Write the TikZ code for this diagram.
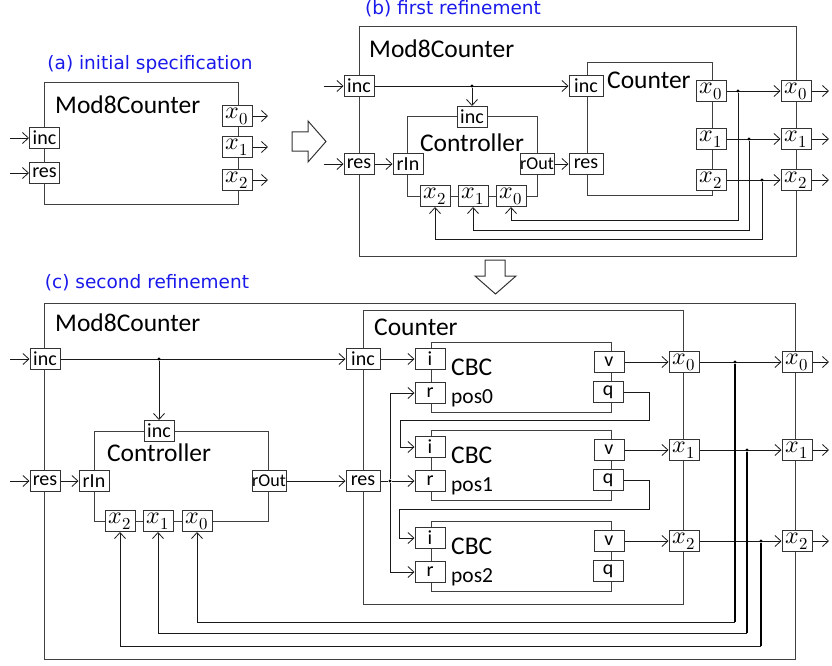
\documentclass[tikz,border=0pt]{standalone}
\usepackage{fontspec}
\usepackage{unicode-math}
\setmainfont{Carlito}
\newfontfamily\capfont{DejaVu Sans}
\usetikzlibrary{arrows.meta}
\definecolor{capblue}{RGB}{25,25,235}
\begin{document}
\begin{tikzpicture}[x=1pt,y=-1pt,
  wire/.style={draw=black!90, line width=0.8pt},
  thickwire/.style={draw=black, line width=1.8pt},
  arr/.style={wire,-{Straight Barb[length=6pt,width=11pt]}},
  compbox/.style={draw=black!75, line width=1pt},
  port/.style={draw=black!80, line width=1pt, fill=white, minimum width=30pt, minimum height=21pt, inner sep=0pt, font=\fontsize{20}{20}\selectfont},
  wport/.style={port, minimum width=34pt},
  routport/.style={wport, font=\fontsize{18}{18}\selectfont},
  xport/.style={port, font=\fontsize{24}{24}\selectfont},
  bigtext/.style={font=\fontsize{25.5}{26}\selectfont, inner sep=0pt, anchor=west},
  postext/.style={font=\fontsize{21.5}{22}\selectfont, inner sep=0pt, anchor=west},
  captext/.style={font=\capfont\fontsize{18.5}{19}\selectfont, text=capblue, inner sep=0pt},
  jdot/.style={circle, fill=black, inner sep=0pt, minimum size=3.2pt},
  hollow/.style={draw=black!80, line width=1pt, fill=white},
]
\useasboundingbox (0,0) rectangle (832,666);

% ---------------- (a) ----------------
\node[captext] (capa) at (150,64) {(a) initial specification};
\draw[compbox] (44,83) rectangle (238,204);
\node[bigtext] (amod) at (55,105) {Mod8Counter};
\node[port] (ainc) at (44.5,138) {inc};
\node[port] (ares) at (44.5,173) {res};
\node[xport] (ax0) at (237,116) {$x_0$};
\node[xport] (ax1) at (237,147) {$x_1$};
\node[xport] (ax2) at (237,180) {$x_2$};
\coordinate (aincin) at (10,138);
\coordinate (aresin) at (10,173);
\coordinate (ax0out) at (268,116);
\coordinate (ax1out) at (268,147);
\coordinate (ax2out) at (268,180);
\draw[arr] (aincin) -- (ainc);
\draw[arr] (aresin) -- (ares);
\draw[arr] (ax0) -- (ax0out);
\draw[arr] (ax1) -- (ax1out);
\draw[arr] (ax2) -- (ax2out);

% hollow arrow a -> b
\draw[hollow] (292,132) -- (308,132) -- (308,121) -- (326,141.5) -- (308,162) -- (308,151) -- (292,151) -- cycle;

% ---------------- (b) ----------------
\node[captext] (capb) at (453,9) {(b) first refinement};
\draw[compbox] (359,27) rectangle (796,256);
\node[bigtext] (bmod) at (369,49) {Mod8Counter};
\node[port] (binc) at (359,86) {inc};
\node[port] (bres) at (359,164) {res};
% controller
\draw[compbox] (407,117) rectangle (537,196);
\node[bigtext, anchor=center] (bctl) at (472,143) {Controller};
\node[port] (bcinc) at (472,117) {inc};
\node[port] (brin) at (408,164) {rIn};
\node[routport] (brout) at (537,164) {rOut};
\node[xport] (bcx2) at (435,196) {$x_2$};
\node[xport] (bcx1) at (473,196) {$x_1$};
\node[xport] (bcx0) at (511,196) {$x_0$};
% counter
\draw[compbox] (587,63) rectangle (712,195);
\node[bigtext] (bcnt) at (607,80) {Counter};
\node[wport] (bkinc) at (586,86) {inc};
\node[wport] (bkres) at (586,164) {res};
\node[xport] (bkx0) at (711,91) {$x_0$};
\node[xport] (bkx1) at (711,139) {$x_1$};
\node[xport] (bkx2) at (711,180) {$x_2$};
% outer outputs
\node[xport] (box0) at (796,91) {$x_0$};
\node[xport] (box1) at (796,139) {$x_1$};
\node[xport] (box2) at (796,180) {$x_2$};
\coordinate (bincin) at (324,86);
\coordinate (bresin) at (324,164);
\coordinate (box0out) at (829,91);
\coordinate (box1out) at (829,139);
\coordinate (box2out) at (829,180);
\draw[arr] (bincin) -- (binc);
\draw[arr] (bresin) -- (bres);
\draw[arr] (binc) -- (bkinc);
\node[jdot] (bj) at (472,86) {};
\draw[arr] (bj) -- (bcinc);
\draw[arr] (bres) -- (brin);
\draw[arr] (brout) -- (bkres);
\draw[arr] (bkx0) -- (box0);
\draw[arr] (bkx1) -- (box1);
\draw[arr] (bkx2) -- (box2);
\draw[arr] (box0) -- (box0out);
\draw[arr] (box1) -- (box1out);
\draw[arr] (box2) -- (box2out);
\node[jdot] (bj0) at (738,91) {};
\node[jdot] (bj1) at (749,139) {};
\node[jdot] (bj2) at (762,180) {};
\draw[arr] (bj0) -- (738,220) -| (bcx0);
\draw[arr] (bj1) -- (749,230) -| (bcx1);
\draw[arr] (bj2) -- (762,239) -| (bcx2);

% hollow arrow b -> c
\draw[hollow] (485,260) -- (505,260) -- (505,276) -- (516,276) -- (495.5,294) -- (475,276) -- (485,276) -- cycle;

% ---------------- (c) ----------------
\node[captext] (capc) at (147,283) {(c) second refinement};
\draw[compbox] (44,303) rectangle (795,659);
\node[bigtext] (cmod) at (55,323) {Mod8Counter};
\node[port] (cinc) at (45,359) {inc};
\node[port] (cres) at (45,481) {res};
% controller
\draw[compbox] (94,431) rectangle (268,521);
\node[bigtext, anchor=center] (cctl) at (159,453) {Controller};
\node[port] (ccinc) at (159,431) {inc};
\node[port] (crin) at (94,481) {rIn};
\node[routport] (crout) at (269,481) {rOut};
\node[xport] (ccx2) at (120,521) {$x_2$};
\node[xport] (ccx1) at (158,521) {$x_1$};
\node[xport] (ccx0) at (197,521) {$x_0$};
% counter
\draw[compbox] (363,310) rectangle (683,604);
\node[bigtext] (ccnt) at (374,327) {Counter};
\node[wport] (ckinc) at (363,359) {inc};
\node[wport] (ckres) at (363,481) {res};
% CBC cells
\foreach \k/\T in {0/342,1/430,2/521}{
  \draw[compbox] (431,\T) rectangle (611,\T+70);
  \node[port] (ci\k) at (430,\T+17) {i};
  \node[port] (cr\k) at (430,\T+51) {r};
  \node[port] (cv\k) at (609,\T+20) {v};
  \node[port] (cq\k) at (608,\T+50) {q};
  \node[bigtext] (ccbc\k) at (451,\T+25) {CBC};
  \node[postext] (cpos\k) at (451,\T+56) {pos\k};
}
\node[xport] (ckx0) at (684,362) {$x_0$};
\node[xport] (ckx1) at (684,450) {$x_1$};
\node[xport] (ckx2) at (684,541) {$x_2$};
\node[xport] (cox0) at (797,362) {$x_0$};
\node[xport] (cox1) at (797,450) {$x_1$};
\node[xport] (cox2) at (797,541) {$x_2$};
\coordinate (cincin) at (10,359);
\coordinate (cresin) at (10,481);
\coordinate (cox0out) at (829,362);
\coordinate (cox1out) at (829,450);
\coordinate (cox2out) at (829,541);
\draw[arr] (cincin) -- (cinc);
\draw[arr] (cresin) -- (cres);
\draw[arr] (cinc) -- (ckinc);
\node[jdot] (cj) at (159,359) {};
\draw[arr] (cj) -- (ccinc);
\draw[arr] (cres) -- (crin);
\draw[arr] (crout) -- (ckres);
\draw[arr] (ckinc) -- (ci0);
\node[jdot] (crj) at (390,481) {};
\draw[wire] (ckres) -- (crj);
\draw[arr] (crj) -- (cr1);
\draw[arr] (crj) |- (cr0);
\draw[arr] (crj) |- (cr2);
\draw[arr] (cq0.east) -| (649,420) -| (400,447) -- (ci1);
\draw[arr] (cq1.east) -| (649,509) -| (399,538) -- (ci2);
\draw[arr] (cv0) -- (ckx0);
\draw[arr] (cv1) -- (ckx1);
\draw[arr] (cv2) -- (ckx2);
\draw[arr] (ckx0) -- (cox0);
\draw[arr] (ckx1) -- (cox1);
\draw[arr] (ckx2) -- (cox2);
\draw[arr] (cox0) -- (cox0out);
\draw[arr] (cox1) -- (cox1out);
\draw[arr] (cox2) -- (cox2out);
\node[jdot] (cj0) at (735,362) {};
\node[jdot] (cj1) at (747,450) {};
\node[jdot] (cj2) at (761,541) {};
\coordinate (cb0) at (735,622);
\coordinate (cb1) at (747,633);
\coordinate (cb2) at (761,646);
\draw[thickwire] (cj0) -- (cb0);
\draw[thickwire] (cj1) -- (cb1);
\draw[thickwire] (cj2) -- (cb2);
\draw[arr] (cb0) -| (ccx0);
\draw[arr] (cb1) -| (ccx1);
\draw[arr] (cb2) -| (ccx2);
\end{tikzpicture}
\end{document}
